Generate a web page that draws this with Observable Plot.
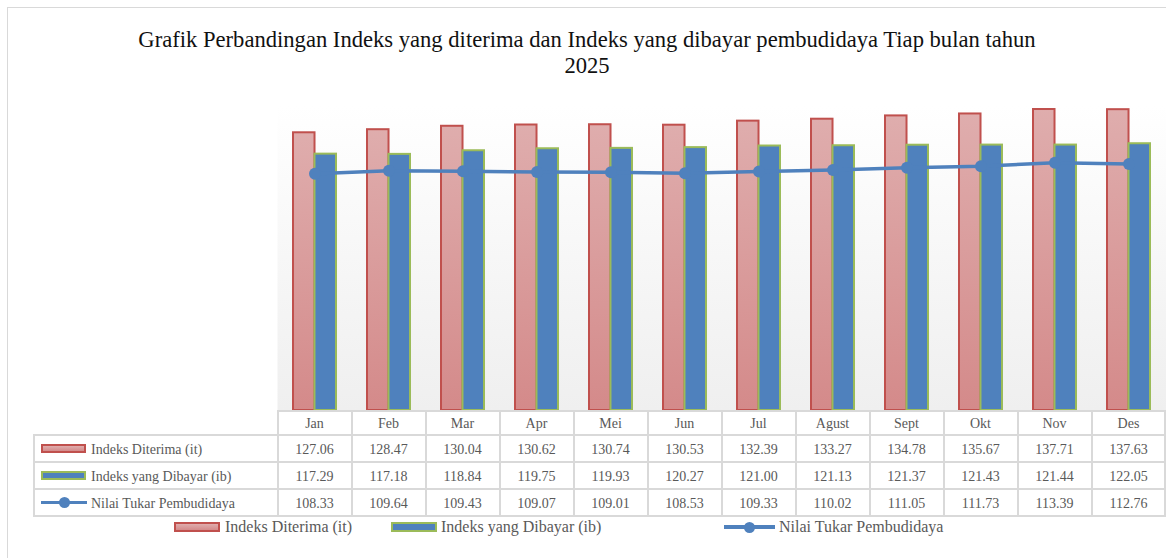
<!DOCTYPE html>
<html><head><meta charset="utf-8">
<script src="https://cdn.jsdelivr.net/npm/d3@7"></script>
<script src="https://cdn.jsdelivr.net/npm/@observablehq/plot@0.6"></script>
<style>
body{margin:0;background:#fff;}
#wrap{position:relative;width:1166px;height:558px;overflow:hidden;font-family:"Liberation Serif","Times New Roman",serif;background:#fff;}
#frame{position:absolute;left:7px;top:7px;width:1300px;height:700px;border:1px solid #d9d9d9;box-sizing:border-box;}
#title{position:absolute;left:87px;width:1000px;top:27px;text-align:center;font-size:22.6px;line-height:26px;color:#111;}
#plot{position:absolute;left:0;top:0;}
.ln{position:absolute;background:#d9d9d9;}
.tx{position:absolute;color:#595959;font-size:14px;white-space:nowrap;transform:translate(-50%,-50%);line-height:1;}
.lb{position:absolute;color:#595959;font-size:14px;white-space:nowrap;transform:translateY(-50%);line-height:1;}
.lg{position:absolute;color:#595959;font-size:16px;white-space:nowrap;transform:translateY(-50%);line-height:1;}
.ic{position:absolute;box-sizing:border-box;}
</style></head>
<body><div id="wrap">
<div id="frame"></div>
<div id="title">Grafik Perbandingan Indeks yang diterima dan Indeks yang dibayar pembudidaya Tiap bulan tahun<br>2025</div>
<div id="plot"></div>
</div>
<script>
const months = ["Jan","Feb","Mar","Apr","Mei","Jun","Jul","Agust","Sept","Okt","Nov","Des"];
const diterima = [127.06,128.47,130.04,130.62,130.74,130.53,132.39,133.27,134.78,135.67,137.71,137.63];
const dibayar = [117.29,117.18,118.84,119.75,119.93,120.27,121.00,121.13,121.37,121.43,121.44,122.05];
const ntp = [108.33,109.64,109.43,109.07,109.01,108.53,109.33,110.02,111.05,111.73,113.39,112.76];
const seriesNames = ["Indeks Diterima (it)","Indeks yang Dibayar (ib)","Nilai Tukar Pembudidaya"];

const data = months.map((m,i)=>({month:m, it:diterima[i], ib:dibayar[i], ntp:ntp[i]}));

const W = 1166, H = 410, ML = 277, MR = 0, MT = 104, MB = 0;
const pin = 0.42;
const bw = ((W-ML-MR)/months.length)*(1-pin);

const chart = Plot.plot({
  width: W, height: H, marginLeft: ML, marginRight: MR, marginTop: MT, marginBottom: MB,
  style: {background: "transparent", overflow: "visible"},
  x: {domain: months, paddingInner: pin, paddingOuter: pin/2, axis: null},
  y: {domain: [0, 140], axis: null},
  marks: [
    Plot.frame({fill: "url(#bgGrad)", stroke: "none"}),
    Plot.barY(data, {x: "month", y: "it", insetRight: bw/2, fill: "url(#redGrad)", stroke: "#c0504d", strokeWidth: 2}),
    Plot.barY(data, {x: "month", y: "ib", insetLeft: bw/2, fill: "#4f81bd", stroke: "#9bbb59", strokeWidth: 2}),
    Plot.line(data, {x: "month", y: "ntp", stroke: "#4f81bd", strokeWidth: 3.5}),
    Plot.dot(data, {x: "month", y: "ntp", r: 6, fill: "#4f81bd", stroke: "none"})
  ]
});
const defs = d3.select(chart).insert("defs", ":first-child");
const bg = defs.append("linearGradient").attr("id","bgGrad").attr("x1",0).attr("y1",0).attr("x2",0).attr("y2",1);
bg.append("stop").attr("offset","0%").attr("stop-color","#ffffff");
bg.append("stop").attr("offset","100%").attr("stop-color","#efefef");
const rg = defs.append("linearGradient").attr("id","redGrad").attr("x1",0).attr("y1",0).attr("x2",0).attr("y2",1);
rg.append("stop").attr("offset","0%").attr("stop-color","#dfadad");
rg.append("stop").attr("offset","100%").attr("stop-color","#d48a8a");
document.getElementById("plot").appendChild(chart);

// data table aligned on the chart's x scale
const wrap = document.getElementById("wrap");
const xs = chart.scale("x");
const step = xs.step;
const center = m => xs.apply(m) + xs.bandwidth/2;
function el(cls, styles, text){
  const d = document.createElement("div"); d.className = cls;
  for (const k in styles) d.style[k] = typeof styles[k] === "number" ? styles[k]+"px" : styles[k];
  if (text != null) d.textContent = text;
  wrap.appendChild(d); return d;
}
const rowY = [411, 435, 462, 489, 516];
const tableLeft = 34;
// horizontal lines
el("ln", {left: ML, top: rowY[0]-1, width: W-ML, height: 2});
for (let r = 1; r < rowY.length; r++) el("ln", {left: tableLeft-1, top: rowY[r]-1, width: W-tableLeft+1, height: 2});
// vertical lines
el("ln", {left: tableLeft-1, top: rowY[1]-1, width: 2, height: rowY[4]-rowY[1]+2});
months.forEach(m => {
  const x0 = center(m) - step/2;
  el("ln", {left: x0-1, top: rowY[0]-1, width: 2, height: rowY[4]-rowY[0]+2});
});
el("ln", {left: W-2, top: rowY[0]-1, width: 2, height: rowY[4]-rowY[0]+2});
// header
months.forEach(m => el("tx", {left: center(m), top: (rowY[0]+rowY[1])/2+1}, m));
const rows = [diterima, dibayar, ntp];
rows.forEach((vals, r) => {
  const cy = (rowY[r+1]+rowY[r+2])/2 + 1;
  months.forEach((m, i) => el("tx", {left: center(m), top: cy}, vals[i].toFixed(2)));
  el("lb", {left: 91, top: cy}, seriesNames[r]);
});
// row icons
function barIcon(x, cy, w, h, fill, stroke){
  el("ic", {left: x, top: cy-h/2, width: w, height: h, background: fill, border: "2px solid "+stroke});
}
function lineIcon(x, cy, w){
  el("ic", {left: x, top: cy-1.75, width: w, height: 3.5, background: "#4f81bd"});
  el("ic", {left: x+w/2-5.5, top: cy-5.5, width: 11, height: 11, background: "#4f81bd", borderRadius: "50%"});
}
const rc = r => (rowY[r+1]+rowY[r+2])/2;
barIcon(41, rc(0), 45, 9, "linear-gradient(#dfadad,#d48a8a)", "#c0504d");
barIcon(41, rc(1), 45, 9, "#4f81bd", "#9bbb59");
lineIcon(41, rc(2), 46);
// legend
const ly = 527;
barIcon(174, ly, 46, 10, "linear-gradient(#dfadad,#d48a8a)", "#c0504d");
el("lg", {left: 225, top: ly}, seriesNames[0]);
barIcon(391, ly, 46, 10, "#4f81bd", "#9bbb59");
el("lg", {left: 441, top: ly}, seriesNames[1]);
lineIcon(724, ly, 51);
el("lg", {left: 779, top: ly}, seriesNames[2]);
</script>
</body></html>
